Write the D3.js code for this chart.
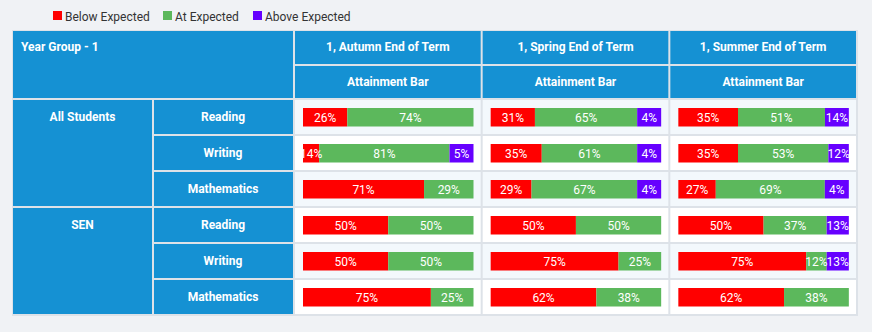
<html>
<script src='https://d3js.org/d3.v7.min.js'></script>
<style>
body {margin:0; background:#f0f2f5;}
text {font-family: Roboto, sans-serif;}
</style>
<body onload='init()'>
<svg width=872 height=332>
</svg>
<script>
var title = "Year Group - 1"
var terms = ["1, Autumn End of Term", "1, Spring End of Term", "1, Summer End of Term"]
var subHeader = "Attainment Bar"
var groups = ["All Students", "SEN"]
var subjects = ["Reading", "Writing", "Mathematics"]
var series = ["Below Expected", "At Expected", "Above Expected"]
var colors = ["#ff0000", "#5cb85c", "#6600ff"]
// one row per group/subject, one column per term
var below = [[26,31,35],[14,35,35],[71,29,27],[50,50,50],[50,75,75],[75,62,62]]
var at    = [[74,65,51],[81,61,53],[29,67,69],[50,50,37],[50,25,12],[25,38,38]]
var above = [[0,4,14],[5,4,12],[0,4,4],[0,0,13],[0,0,13],[0,0,0]]

function init() {
var svg = d3.select("svg")
var blue = "#1591d3"
var rows = d3.range(groups.length * subjects.length)
var x = d3.scaleBand().domain(terms).range([294, 857])
var y = d3.scaleBand().domain(rows).range([99, 315])
var hy = d3.scaleBand().domain([0,1]).range([31, 99])

// legend
var lx = [53, 163, 253]
var leg = svg.append("g").selectAll("g").data(series).enter().append("g")
  .attr("transform", function(d,i){ return "translate(" + lx[i] + ",11)" })
leg.append("rect").attr("width", 9).attr("height", 9).attr("fill", function(d,i){ return colors[i] })
leg.append("text").attr("x", 12).attr("y", 6).attr("dy", "0.35em")
  .attr("font-size", 12).attr("fill", "#333").text(function(d){ return d })

// table border background
svg.append("rect").attr("x", 12).attr("y", 30).attr("width", 846).attr("height", 286).attr("fill", "#dde2e8")

function cell(x0, y0, w, h, fill) {
  svg.append("rect").attr("x", x0 + 1).attr("y", y0 + 1).attr("width", w - 2).attr("height", h - 2).attr("fill", fill)
}
function label(tx, ty, t, anchor) {
  svg.append("text").attr("x", tx).attr("y", ty).attr("dy", "0.35em")
    .attr("text-anchor", anchor || "middle").attr("font-size", 12).attr("font-weight", "bold")
    .attr("fill", "#fff").text(t)
}

// header
cell(12, 30, 282, 69, blue)
label(21, 47, title, "start")
terms.forEach(function(t){
  cell(x(t), 30, x.bandwidth(), hy.bandwidth() + 1, blue)
  cell(x(t), hy(1), x.bandwidth(), hy.bandwidth(), blue)
  label(x(t) + x.bandwidth()/2, hy(0) + hy.bandwidth()/2 - 1, t)
  label(x(t) + x.bandwidth()/2, hy(1) + hy.bandwidth()/2, subHeader)
})

// row headers
groups.forEach(function(g, gi){
  var r0 = y(gi * subjects.length)
  cell(12, r0, 141, y.bandwidth() * subjects.length, blue)
  label(82.5, r0 + y.bandwidth()/2, g)
  subjects.forEach(function(s, si){
    cell(153, y(gi * subjects.length + si), 141, y.bandwidth(), blue)
    label(223, y(gi * subjects.length + si) + y.bandwidth()/2, s)
  })
})

// bar segments: single-digit values keep a minimum width so the label fits,
// the other segments give up that space equally
var bw = d3.scaleLinear().domain([0, 100]).range([0, 170.5])
var minW = 24
function widths(vals) {
  var w = vals.map(function(v){ return v > 0 ? bw(v) : 0 })
  var deficit = 0, flex = []
  vals.forEach(function(v, i){
    if (v > 0 && v < 10 && w[i] < minW) { deficit += minW - w[i]; w[i] = minW }
    else if (v > 0) flex.push(i)
  })
  flex.forEach(function(i){ w[i] -= deficit / flex.length })
  return w
}

rows.forEach(function(r){
  terms.forEach(function(t, ti){
    cell(x(t), y(r), x.bandwidth(), y.bandwidth(), r % 2 == 0 ? "#f3f8fc" : "#ffffff")
    var vals = [below[r][ti], at[r][ti], above[r][ti]]
    var w = widths(vals)
    var segs = [], cx = x(t) + 9
    vals.forEach(function(v, vi){
      if (v > 0) segs.push({v: v, i: vi, x: cx, w: w[vi]})
      cx += w[vi]
    })
    var g = svg.append("g")
    g.selectAll("rect").data(segs).enter().append("rect")
      .attr("x", function(d){ return d.x }).attr("y", y(r) + 9)
      .attr("width", function(d){ return d.w }).attr("height", 18.5)
      .attr("fill", function(d){ return colors[d.i] })
    g.selectAll("text").data(segs).enter().append("text")
      .attr("x", function(d){ return d.x + d.w/2 }).attr("y", y(r) + 18.5).attr("dy", "0.35em")
      .attr("text-anchor", "middle").attr("font-size", 12).attr("fill", "#fff")
      .text(function(d){ return d.v + "%" })
  })
})
}
</script>
</body>
</html>
